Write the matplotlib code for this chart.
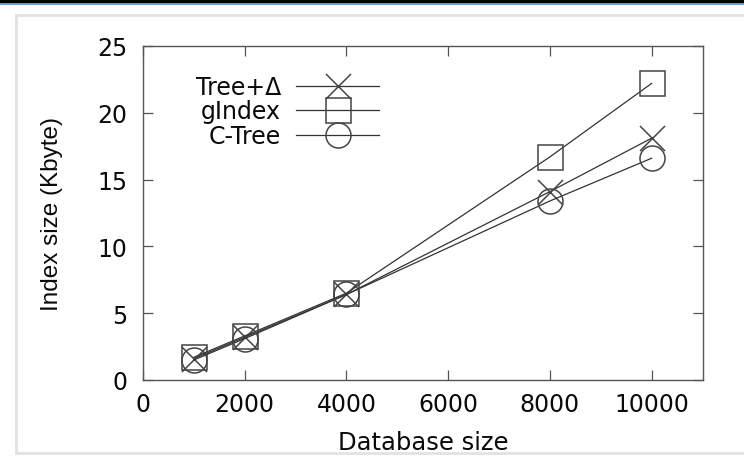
import matplotlib
matplotlib.use("Agg")
import matplotlib.pyplot as plt
from matplotlib.lines import Line2D

# database sizes on the x axis
db_size = [1000, 2000, 4000, 8000, 10000]

# index size in Kbyte
tree_delta = [1.6, 3.2, 6.4, 14.1, 18.1]
gindex = [1.7, 3.3, 6.5, 16.7, 22.2]
ctree = [1.5, 3.1, 6.4, 13.4, 16.6]

series_names = ["Tree+\u0394", "gIndex", "C-Tree"]
x_ticks = [0, 2000, 4000, 6000, 8000, 10000]
y_ticks = [0, 5, 10, 15, 20, 25]

W, H = 744, 460
fig = plt.figure(figsize=(W / 100, H / 100), dpi=100)
fig.patch.set_facecolor("white")

# page decoration: black + blue rule on top, light grey box round the chart
fig.add_artist(Line2D([0, 1], [1 - 1.5 / H, 1 - 1.5 / H], color="black", lw=2.3))
fig.add_artist(Line2D([0, 1], [1 - 4.5 / H, 1 - 4.5 / H], color="#4f86c6", lw=1.2))
box = "#e2e2e2"
fig.add_artist(Line2D([16 / W, 1], [1 - 16 / H, 1 - 16 / H], color=box, lw=2))
fig.add_artist(Line2D([16 / W, 16 / W], [1 - 16 / H, 1 - 454 / H], color=box, lw=2))
fig.add_artist(Line2D([16 / W, 1], [1 - 454 / H, 1 - 454 / H], color=box, lw=2))

ax = fig.add_axes([143 / W, 1 - 381 / H, (702.5 - 143) / W, (381 - 47) / H])

fs = 17
txt = "#0a0a0a"
line_c = "#333333"

ax.plot(db_size, tree_delta, color=line_c, lw=0.9, marker="x", ms=18,
        mew=1.1, mec="#444444", label=series_names[0])
ax.plot(db_size, gindex, color=line_c, lw=0.9, marker="s", ms=18,
        mew=1.1, mec="#444444", mfc="none", label=series_names[1])
ax.plot(db_size, ctree, color=line_c, lw=0.9, marker="o", ms=18,
        mew=1.1, mec="#444444", mfc="none", label=series_names[2])

ax.set_xlim(0, 11000)
ax.set_ylim(0, 25)
ax.set_xticks(x_ticks)
ax.set_yticks(y_ticks)
ax.tick_params(direction="in", length=7.5, width=0.9, color="#555555",
               top=True, right=True, labelsize=fs, labelcolor=txt)
ax.tick_params(axis="x", pad=9)
ax.tick_params(axis="y", pad=11)
for sp in ax.spines.values():
    sp.set_color("#555555")
    sp.set_linewidth(1.0)

ax.set_xlabel("Database size", fontsize=17.5, color=txt, labelpad=10)
ax.set_ylabel("Index size (Kbyte)", fontsize=17.5, color=txt, labelpad=25,
              family="Liberation Sans")

leg = ax.legend(loc="upper right", bbox_to_anchor=((379 - 143) / 559.5, (381 - 76) / 334),
                frameon=False, markerfirst=False, fontsize=fs, handlelength=3.5,
                handletextpad=0.65, labelspacing=0.02, borderpad=0, borderaxespad=0)
for t in leg.get_texts():
    t.set_color(txt)

fig.savefig("out.png", dpi=100, facecolor="white")
